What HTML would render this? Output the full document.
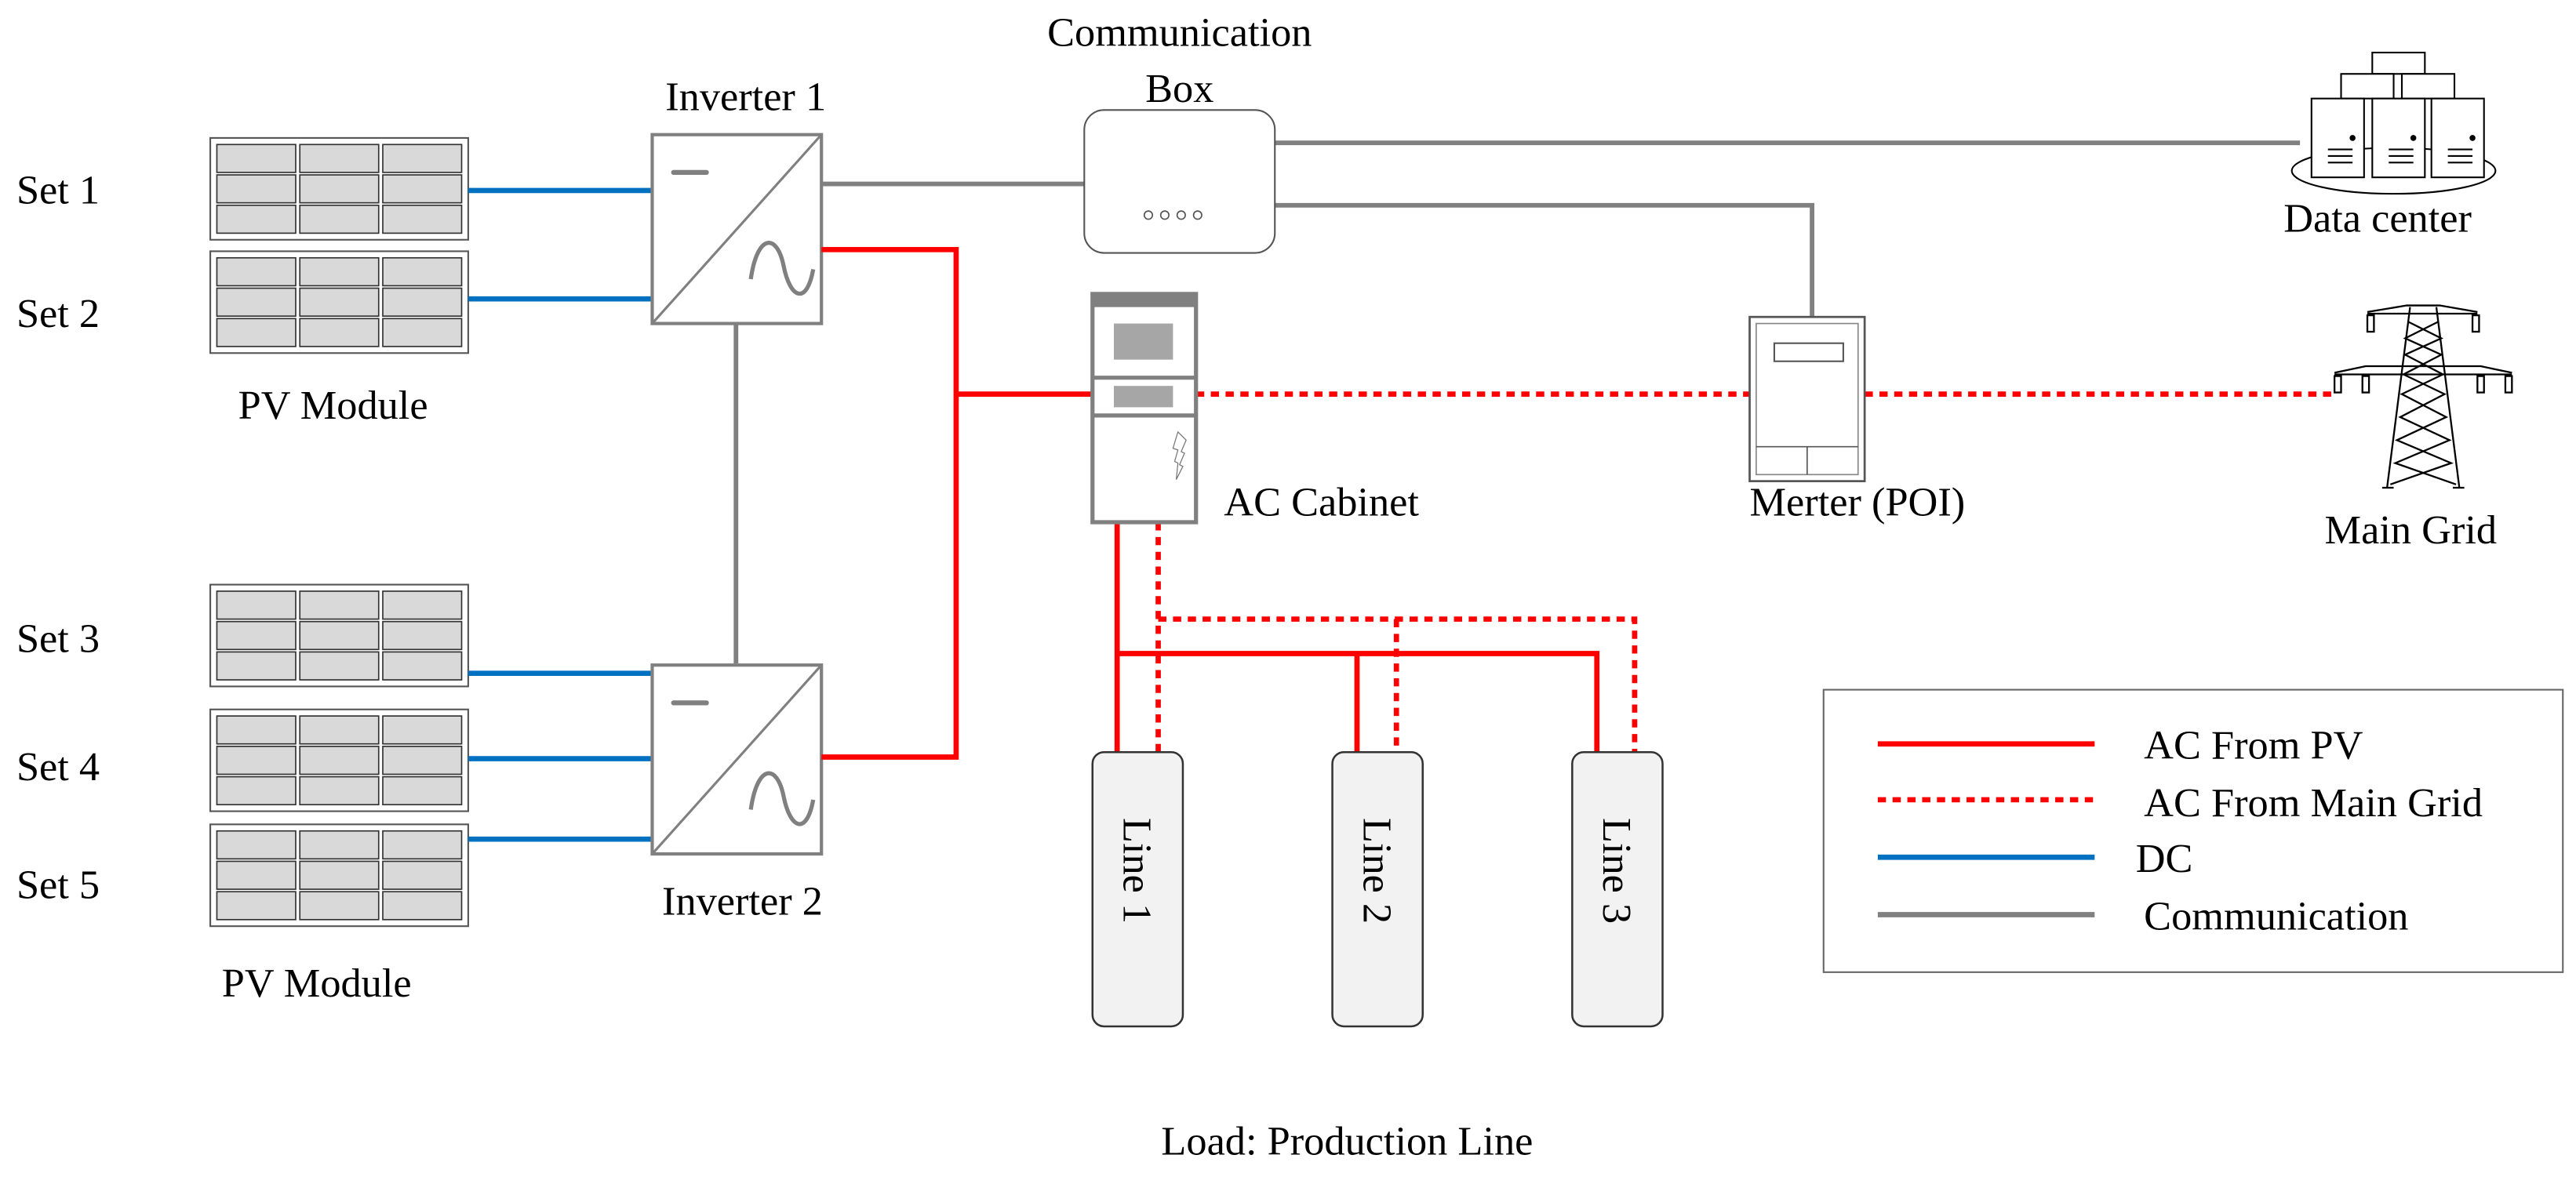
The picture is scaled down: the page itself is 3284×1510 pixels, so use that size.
<!DOCTYPE html>
<html><head><meta charset="utf-8"><style>
html,body{margin:0;padding:0;background:#fff;}
svg{display:block;font-family:"Liberation Serif","Times New Roman",serif;}
text{font-family:"Liberation Serif","Times New Roman",serif;fill:#000;}
</style></head><body>
<svg width="3284" height="1510" viewBox="0 0 1568 721" preserveAspectRatio="none" xmlns="http://www.w3.org/2000/svg" font-family="Liberation Serif, serif">
<defs>
<g id="panel">
<rect x="0" y="0" width="157" height="62" fill="#fff" stroke="#555" stroke-width="1"/>
<g fill="#d9d9d9" stroke="#333" stroke-width="0.8">
<rect x="4" y="4" width="48" height="17"/><rect x="54.5" y="4" width="48" height="17"/><rect x="105" y="4" width="48" height="17"/>
<rect x="4" y="22.5" width="48" height="17"/><rect x="54.5" y="22.5" width="48" height="17"/><rect x="105" y="22.5" width="48" height="17"/>
<rect x="4" y="41" width="48" height="17"/><rect x="54.5" y="41" width="48" height="17"/><rect x="105" y="41" width="48" height="17"/>
</g>
</g>
<g id="inv">
<rect x="0" y="0" width="103" height="115" fill="#fff" stroke="#808080" stroke-width="2"/>
<line x1="0" y1="115" x2="103" y2="0" stroke="#808080" stroke-width="1.5"/>
<line x1="13" y1="23" x2="33" y2="23" stroke="#808080" stroke-width="3" stroke-linecap="round"/>
<path d="M60 88 C64 60,76 60,80 80 S94 104,98 82" fill="none" stroke="#808080" stroke-width="2.5"/>
</g>
</defs>

<g font-size="25">
<text x="10" y="124">Set 1</text>
<text x="10" y="199">Set 2</text>
<text x="10" y="397">Set 3</text>
<text x="10" y="475">Set 4</text>
<text x="10" y="547">Set 5</text>
<text x="145" y="255">PV Module</text>
<text x="135" y="607">PV Module</text>
<text x="405" y="67">Inverter 1</text>
<text x="403" y="557">Inverter 2</text>
<text x="718" y="28" text-anchor="middle">Communication</text>
<text x="718" y="62" text-anchor="middle">Box</text>
<text x="745" y="314">AC Cabinet</text>
<text x="1065" y="314">Merter (POI)</text>
<text x="1390" y="141">Data center</text>
<text x="1415" y="331">Main Grid</text>
<text x="820" y="703" text-anchor="middle">Load: Production Line</text>
</g>

<use href="#panel" x="128" y="84"/>
<use href="#panel" x="128" y="153"/>
<use href="#panel" x="128" y="356"/>
<use href="#panel" x="128" y="432"/>
<use href="#panel" x="128" y="502"/>

<g stroke="#0070c0" stroke-width="3.2">
<line x1="285" y1="116" x2="397" y2="116"/>
<line x1="285" y1="182" x2="397" y2="182"/>
<line x1="285" y1="410" x2="397" y2="410"/>
<line x1="285" y1="462" x2="397" y2="462"/>
<line x1="285" y1="511" x2="397" y2="511"/>
</g>

<g stroke="#808080" stroke-width="2.8" fill="none">
<line x1="448" y1="197" x2="448" y2="404"/>
<line x1="500" y1="112" x2="660" y2="112"/>
<line x1="776" y1="87" x2="1400" y2="87"/>
<polyline points="776,125 1103,125 1103,193"/>
</g>

<use href="#inv" x="397" y="82"/>
<use href="#inv" x="397" y="405"/>

<g stroke="#ff0000" stroke-width="3.2" fill="none">
<polyline points="500,152 582,152 582,461 500,461"/>
<line x1="582" y1="240" x2="665" y2="240"/>
<line x1="680" y1="318" x2="680" y2="458"/>
<polyline points="680,398 972,398 972,458"/>
<line x1="826" y1="398" x2="826" y2="458"/>
</g>
<g stroke="#ff0000" stroke-width="3.2" fill="none" stroke-dasharray="5,4">
<line x1="728" y1="240" x2="1065" y2="240"/>
<line x1="1135" y1="240" x2="1421" y2="240"/>
<line x1="705" y1="318" x2="705" y2="458"/>
<polyline points="705,377 995,377 995,458"/>
<line x1="850" y1="377" x2="850" y2="458"/>
</g>

<rect x="660" y="67" width="116" height="87" rx="12" fill="#fff" stroke="#555" stroke-width="1"/>
<g fill="none" stroke="#555" stroke-width="0.8">
<circle cx="699" cy="131" r="2.5"/><circle cx="709" cy="131" r="2.5"/><circle cx="719" cy="131" r="2.5"/><circle cx="729" cy="131" r="2.5"/>
</g>

<rect x="665" y="179" width="63" height="139" fill="#fff" stroke="#808080" stroke-width="2.5"/>
<rect x="664" y="178" width="65" height="9" fill="#808080"/>
<line x1="665" y1="230" x2="728" y2="230" stroke="#808080" stroke-width="2.5"/>
<line x1="665" y1="253" x2="728" y2="253" stroke="#808080" stroke-width="2.5"/>
<rect x="678" y="197" width="36" height="22" fill="#a6a6a6"/>
<rect x="678" y="235" width="36" height="13" fill="#a6a6a6"/>
<path d="M717 263 L722 268 L719 275 L721 276 L718 283 L720 284 L716 292 L717 282 L715 281 L717 274 L714 273 Z" fill="#fff" stroke="#777" stroke-width="0.6"/>

<rect x="1065" y="193" width="70" height="100" fill="#fff" stroke="#555" stroke-width="1.3"/>
<rect x="1069" y="197" width="62" height="92" fill="none" stroke="#888" stroke-width="0.8"/>
<rect x="1080" y="209" width="42" height="11" fill="none" stroke="#555" stroke-width="1"/>
<line x1="1069" y1="272" x2="1131" y2="272" stroke="#555" stroke-width="0.8"/>
<line x1="1100" y1="272" x2="1100" y2="289" stroke="#555" stroke-width="0.8"/>

<!-- data center -->
<g fill="#fff" stroke="#000" stroke-width="1">
<ellipse cx="1457" cy="104" rx="62" ry="14"/>
<rect x="1444" y="32" width="32" height="13"/>
<rect x="1425" y="45" width="32" height="15"/>
<rect x="1462" y="45" width="32" height="15"/>
<rect x="1407" y="60" width="32" height="48"/>
<rect x="1444" y="60" width="32" height="48"/>
<rect x="1480" y="60" width="32" height="48"/>
</g>
<g stroke="#000" stroke-width="1">
<line x1="1417" y1="91" x2="1432" y2="91"/><line x1="1417" y1="95" x2="1432" y2="95"/><line x1="1417" y1="99" x2="1432" y2="99"/>
<line x1="1454" y1="91" x2="1469" y2="91"/><line x1="1454" y1="95" x2="1469" y2="95"/><line x1="1454" y1="99" x2="1469" y2="99"/>
<line x1="1490" y1="91" x2="1505" y2="91"/><line x1="1490" y1="95" x2="1505" y2="95"/><line x1="1490" y1="99" x2="1505" y2="99"/>
</g>
<circle cx="1432" cy="84" r="1.8"/><circle cx="1469" cy="84" r="1.8"/><circle cx="1505" cy="84" r="1.8"/>

<!-- tower -->
<g stroke="#000" stroke-width="1.1" fill="none">
<polyline points="1441,190 1465,186 1485,186 1508,190"/>
<line x1="1441" y1="191" x2="1508" y2="191"/>
<polyline points="1421,227 1440,223 1510,223 1529,227"/>
<line x1="1421" y1="228" x2="1529" y2="228"/>
<line x1="1467" y1="187" x2="1453" y2="297"/>
<line x1="1483" y1="187" x2="1497" y2="297"/>
<polyline points="1466,196 1486,206 1464,216 1487,228 1462,240 1489,254 1459,268 1492,282 1455,295"/>
<polyline points="1484,196 1464,206 1486,216 1463,228 1488,240 1461,254 1491,268 1458,282 1495,295"/>
<line x1="1450" y1="297" x2="1457" y2="297"/><line x1="1493" y1="297" x2="1500" y2="297"/>
<rect x="1441" y="192" width="4" height="10"/><rect x="1505" y="192" width="4" height="10"/>
<rect x="1421" y="229" width="4" height="10"/><rect x="1438" y="229" width="4" height="10"/>
<rect x="1508" y="229" width="4" height="10"/><rect x="1525" y="229" width="4" height="10"/>
</g>

<g fill="#f2f2f2" stroke="#333" stroke-width="1.2">
<rect x="665" y="458" width="55" height="167" rx="7"/>
<rect x="811" y="458" width="55" height="167" rx="7"/>
<rect x="957" y="458" width="55" height="167" rx="7"/>
</g>
<g font-size="25">
<text transform="translate(684,498) rotate(90)">Line 1</text>
<text transform="translate(830,498) rotate(90)">Line 2</text>
<text transform="translate(976,498) rotate(90)">Line 3</text>
</g>

<rect x="1110" y="420" width="450" height="172" fill="#fff" stroke="#666" stroke-width="1"/>
<line x1="1143" y1="453" x2="1275" y2="453" stroke="#ff0000" stroke-width="3.2"/>
<line x1="1143" y1="487" x2="1275" y2="487" stroke="#ff0000" stroke-width="3.2" stroke-dasharray="5,4"/>
<line x1="1143" y1="522" x2="1275" y2="522" stroke="#0070c0" stroke-width="3.2"/>
<line x1="1143" y1="557" x2="1275" y2="557" stroke="#808080" stroke-width="3.2"/>
<g font-size="25">
<text x="1305" y="462">AC From PV</text>
<text x="1305" y="497">AC From Main Grid</text>
<text x="1300" y="531">DC</text>
<text x="1305" y="566">Communication</text>
</g>
</svg>
</body></html>
